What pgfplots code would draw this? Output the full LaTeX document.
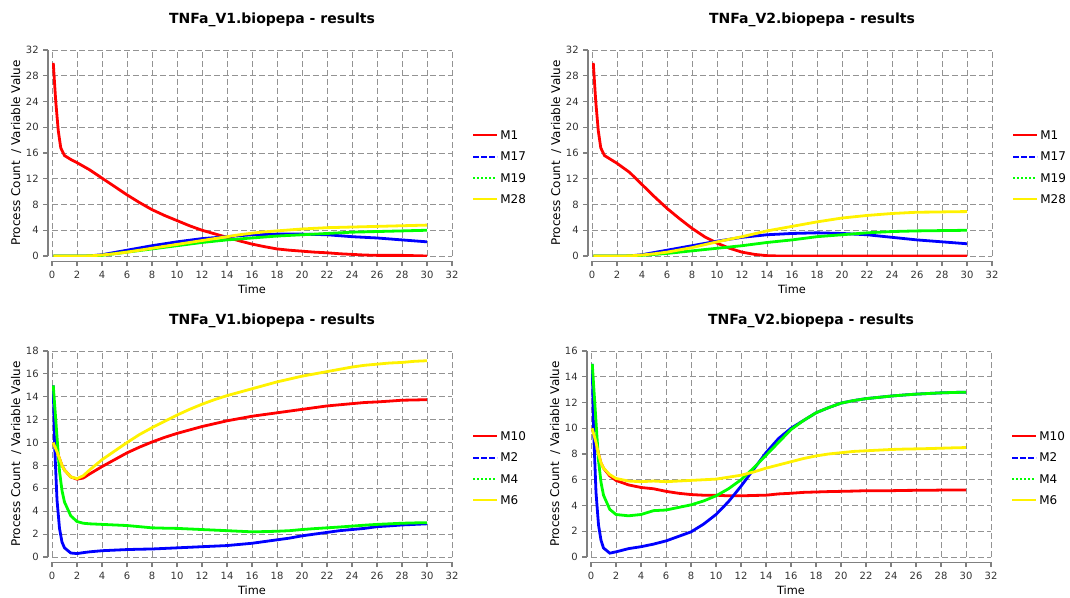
\documentclass[border=0pt]{standalone}
\usepackage{fontspec}
\setmainfont{DejaVu Sans}
\usepackage{pgfplots}
\usepackage{pgfplotstable}
\pgfplotsset{compat=1.18}

% time courses
\pgfplotstableread{
t M1 M17 M19 M28
0.1 30 0 0 0
0.3 24 0 0 0
0.5 19.5 0 0 0
0.7 16.8 0 0 0
1 15.6 0 0 0
1.5 15.0 0 0 0
2 14.5 0 0 0
3 13.4 0.02 0.02 0.02
4 12.1 0.2 0.1 0.15
5 10.8 0.55 0.35 0.35
6 9.5 0.9 0.6 0.6
7 8.3 1.25 0.85 0.9
8 7.2 1.6 1.1 1.2
9 6.3 1.9 1.35 1.5
10 5.5 2.2 1.6 1.8
11 4.7 2.45 1.85 2.1
12 4.0 2.7 2.1 2.4
13 3.45 2.85 2.3 2.7
14 2.9 3.0 2.5 3.0
15 2.35 3.15 2.65 3.3
16 1.85 3.3 2.8 3.55
17 1.45 3.35 2.95 3.75
18 1.1 3.4 3.1 3.9
19 0.9 3.4 3.2 4.05
20 0.75 3.4 3.3 4.2
21 0.6 3.35 3.4 4.3
22 0.5 3.3 3.5 4.4
23 0.35 3.15 3.6 4.45
24 0.25 3.0 3.7 4.5
25 0.15 2.9 3.75 4.55
26 0.1 2.8 3.8 4.6
27 0.1 2.65 3.85 4.65
28 0.1 2.5 3.9 4.7
29 0.05 2.35 3.95 4.75
30 0.0 2.2 4.0 4.8
}\vonetop

\pgfplotstableread{
t M1 M17 M19 M28
0.1 30 0 0 0
0.3 24 0 0 0
0.5 19.5 0 0 0
0.7 16.8 0 0 0
1 15.6 0 0 0
1.5 15.0 0 0 0
2 14.4 0 0 0
3 13.0 0.02 0.02 0.02
4 11.1 0.2 0.1 0.15
5 9.2 0.55 0.25 0.35
6 7.4 0.9 0.4 0.6
7 5.8 1.25 0.6 0.95
8 4.3 1.6 0.8 1.3
9 3.0 1.95 1.0 1.75
10 2.0 2.3 1.2 2.2
11 1.2 2.6 1.4 2.6
12 0.6 2.9 1.6 3.0
13 0.25 3.1 1.85 3.45
14 0.05 3.3 2.1 3.9
15 0 3.4 2.3 4.25
16 0 3.5 2.5 4.6
17 0 3.55 2.75 4.95
18 0 3.6 3.0 5.3
19 0 3.55 3.15 5.6
20 0 3.5 3.3 5.9
21 0 3.4 3.45 6.1
22 0 3.3 3.6 6.3
23 0 3.1 3.7 6.45
24 0 2.9 3.8 6.6
25 0 2.7 3.85 6.7
26 0 2.5 3.9 6.8
27 0 2.35 3.92 6.82
28 0 2.2 3.95 6.85
29 0 2.05 3.97 6.88
30 0 1.9 4.0 6.9
}\vtwotop

\pgfplotstableread{
t M10 M2 M4 M6
0.1 10 15 15 10
0.2 9.7 10 13.5 9.7
0.4 9.2 5 10.5 9.2
0.6 8.6 2.5 7.5 8.6
0.8 8.0 1.3 5.8 8.0
1 7.6 0.8 4.8 7.6
1.5 7.0 0.35 3.6 7.0
2 6.8 0.3 3.1 6.85
2.5 6.9 0.38 2.95 7.1
3 7.25 0.45 2.9 7.6
4 7.9 0.55 2.85 8.5
5 8.5 0.6 2.8 9.25
6 9.1 0.65 2.75 10.0
7 9.6 0.68 2.65 10.7
8 10.05 0.7 2.55 11.3
9 10.45 0.75 2.52 11.85
10 10.8 0.8 2.5 12.4
11 11.1 0.85 2.45 12.9
12 11.4 0.9 2.4 13.35
13 11.65 0.95 2.35 13.75
14 11.9 1.0 2.3 14.1
15 12.1 1.1 2.25 14.4
16 12.3 1.2 2.2 14.7
17 12.45 1.35 2.22 15.0
18 12.6 1.5 2.25 15.3
19 12.75 1.65 2.3 15.55
20 12.9 1.85 2.4 15.8
21 13.05 2.0 2.48 16.0
22 13.2 2.15 2.55 16.2
23 13.3 2.3 2.62 16.4
24 13.4 2.4 2.7 16.6
25 13.5 2.5 2.78 16.75
26 13.55 2.65 2.85 16.85
27 13.62 2.72 2.9 16.95
28 13.7 2.8 2.95 17.0
29 13.72 2.85 2.98 17.1
30 13.75 2.9 3.0 17.15
}\vonebot

\pgfplotstableread{
t M10 M2 M4 M6
0.1 10 15 15 10
0.2 9.6 10 13.5 9.6
0.4 8.9 5 10.5 8.9
0.6 8.0 2.5 7.5 8.0
0.8 7.3 1.3 5.8 7.3
1 6.9 0.7 4.8 6.9
1.5 6.3 0.3 3.7 6.4
2 5.95 0.4 3.3 6.1
3 5.6 0.65 3.2 5.9
4 5.4 0.8 3.3 5.85
5 5.3 1.0 3.6 5.9
6 5.1 1.25 3.65 5.85
7 4.95 1.6 3.85 5.9
8 4.85 1.95 4.05 5.95
9 4.8 2.55 4.35 6.0
10 4.8 3.3 4.75 6.05
11 4.75 4.3 5.3 6.2
12 4.75 5.5 6.0 6.35
13 4.78 6.8 6.9 6.6
14 4.8 8.1 7.9 6.9
15 4.9 9.2 8.9 7.15
16 4.95 10.0 9.9 7.4
17 5.02 10.6 10.6 7.65
18 5.05 11.2 11.2 7.85
19 5.08 11.6 11.6 8.0
20 5.1 11.95 11.95 8.1
21 5.12 12.15 12.15 8.2
22 5.15 12.3 12.3 8.25
23 5.15 12.4 12.4 8.3
24 5.15 12.5 12.5 8.35
25 5.17 12.58 12.58 8.38
26 5.18 12.65 12.65 8.4
27 5.18 12.7 12.7 8.42
28 5.2 12.75 12.75 8.45
29 5.2 12.78 12.78 8.48
30 5.2 12.8 12.8 8.5
}\vtwobot

\pgfplotsset{
  sim/.style={
    scale only axis, width=300pt, height=154.5pt,
    anchor=south west,
    xmin=0, xmax=32, ymin=0,
    xtick distance=2,
    axis lines=left,
    axis x line shift=4pt,
    axis y line shift=3pt,
    axis line style={-, draw=gray, line width=0.8pt},
    tick align=outside,
    major tick length=3.5pt,
    major tick style={gray, line width=0.8pt},
    grid=major,
    major grid style={gray!85, line width=0.75pt, dash pattern=on 4.5pt off 2.25pt},
    tick label style={font=\fontsize{7.5}{9}\selectfont, text=black!80},
    /pgf/number format/assume math mode=true,
    title style={font=\bfseries\fontsize{10.5}{12}\selectfont, at={(axis description cs:0.55,1)}, anchor=center, yshift=16.5pt},
    xlabel={Time},
    xlabel style={font=\fontsize{8.5}{10}\selectfont, at={(axis description cs:0.5,0)}, anchor=center, yshift=-24.75pt},
    ylabel={Process Count~ / Variable Value},
    ylabel style={font=\fontsize{9}{10}\selectfont, at={(axis description cs:0,0.5)}, anchor=center, yshift=27pt},
    legend style={draw=none, fill=none, at={(1.05,0.43)}, anchor=west,
      font=\fontsize{9}{10}\selectfont, row sep=5pt, inner sep=0pt,
      nodes={inner sep=1.5pt, text height=7pt, text depth=1pt}},
    legend cell align=left,
    legend image code/.code={\draw[#1] (0pt,0pt) -- (18pt,0pt);},
    every axis plot/.append style={line width=2.1pt},
  },
  leg/.style={line width=1.5pt},
}

\begin{document}
\begin{tikzpicture}
\useasboundingbox (0,0) rectangle (802.5pt,447.75pt);

\begin{axis}[sim, at={(39pt,255.75pt)}, ymax=32, ytick distance=4,
  title={TNFa\_V1.biopepa - results}]
\addlegendimage{red, leg}
\addlegendimage{blue, leg, dash pattern=on 4pt off 2pt}
\addlegendimage{green, leg, dash pattern=on 1.5pt off 1.5pt}
\addlegendimage{yellow, leg}
\addplot[red, forget plot] table[x=t, y=M1] {\vonetop};
\addplot[blue, forget plot] table[x=t, y=M17] {\vonetop};
\addplot[green, forget plot] table[x=t, y=M19] {\vonetop};
\addplot[yellow, forget plot] table[x=t, y=M28] {\vonetop};
\legend{M1,M17,M19,M28}
\end{axis}

\begin{axis}[sim, at={(444pt,255.75pt)}, ymax=32, ytick distance=4,
  title={TNFa\_V2.biopepa - results}]
\addlegendimage{red, leg}
\addlegendimage{blue, leg, dash pattern=on 4pt off 2pt}
\addlegendimage{green, leg, dash pattern=on 1.5pt off 1.5pt}
\addlegendimage{yellow, leg}
\addplot[red, forget plot] table[x=t, y=M1] {\vtwotop};
\addplot[blue, forget plot] table[x=t, y=M17] {\vtwotop};
\addplot[green, forget plot] table[x=t, y=M19] {\vtwotop};
\addplot[yellow, forget plot] table[x=t, y=M28] {\vtwotop};
\legend{M1,M17,M19,M28}
\end{axis}

\begin{axis}[sim, at={(39pt,30pt)}, ymax=18, ytick distance=2,
  title={TNFa\_V1.biopepa - results}]
\addlegendimage{red, leg}
\addlegendimage{blue, leg, dash pattern=on 4pt off 2pt}
\addlegendimage{green, leg, dash pattern=on 1.5pt off 1.5pt}
\addlegendimage{yellow, leg}
\addplot[red, forget plot] table[x=t, y=M10] {\vonebot};
\addplot[blue, forget plot] table[x=t, y=M2] {\vonebot};
\addplot[green, forget plot] table[x=t, y=M4] {\vonebot};
\addplot[yellow, forget plot] table[x=t, y=M6] {\vonebot};
\legend{M10,M2,M4,M6}
\end{axis}

\begin{axis}[sim, at={(443.25pt,30pt)}, ymax=16, ytick distance=2,
  title={TNFa\_V2.biopepa - results}]
\addlegendimage{red, leg}
\addlegendimage{blue, leg, dash pattern=on 4pt off 2pt}
\addlegendimage{green, leg, dash pattern=on 1.5pt off 1.5pt}
\addlegendimage{yellow, leg}
\addplot[red, forget plot] table[x=t, y=M10] {\vtwobot};
\addplot[blue, forget plot] table[x=t, y=M2] {\vtwobot};
\addplot[green, forget plot] table[x=t, y=M4] {\vtwobot};
\addplot[yellow, forget plot] table[x=t, y=M6] {\vtwobot};
\legend{M10,M2,M4,M6}
\end{axis}
\end{tikzpicture}
\end{document}
